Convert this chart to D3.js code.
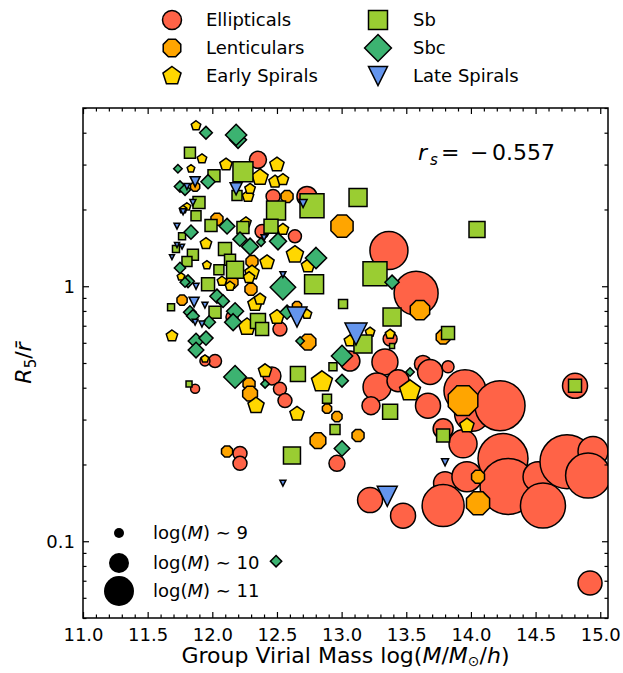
<!DOCTYPE html>
<html>
<head>
<meta charset="utf-8">
<script src="https://cdn.jsdelivr.net/npm/d3@7"></script>
<style>
  body { margin: 0; background: #fff; }
  text { font-family: "DejaVu Sans", sans-serif; fill: #000; }
</style>
</head>
<body>
<svg id="chart" width="623" height="673"></svg>
<script>
// Each galaxy: [group virial mass log(M/Msun/h), R5/r-bar, log stellar mass]
const ellipticals = [
  [12.353,3.13,9.7],[12.470,2.25,9.4],[12.732,2.25,10.0],[12.385,1.64,9.4],[12.639,1.57,9.3],
  [13.366,1.38,11.8],[13.576,0.939,12.4],[12.152,0.757,9.2],[12.523,0.679,9.4],[12.021,0.509,9.3],
  [11.943,0.509,9.0],[11.867,0.396,8.9],[12.461,0.445,9.8],[12.523,0.396,9.3],[12.562,0.356,9.4],
  [12.214,0.221,9.4],[12.214,0.202,9.4],[12.964,0.202,9.6],[13.064,0.509,10.0],[13.375,0.621,9.4],
  [13.335,0.505,10.6],[13.629,0.496,9.7],[13.684,0.461,10.5],[13.823,0.483,9.2],[13.274,0.403,10.8],
  [13.436,0.426,10.2],[13.668,0.34,10.5],[13.954,0.389,12.2],[14.009,0.316,11.5],[14.225,0.34,13.0],
  [13.227,0.34,9.8],[13.785,0.276,10.0],[13.939,0.241,10.8],[13.800,0.169,10.3],[13.969,0.179,11.0],
  [14.248,0.211,13.0],[14.287,0.164,13.6],[14.519,0.179,11.0],[14.557,0.138,12.5],[14.743,0.205,13.4],
  [14.944,0.225,11.0],[14.906,0.181,12.5],[14.805,0.407,10.5],[13.785,0.138,12.2],[13.220,0.145,10.5],
  [13.475,0.126,10.5],[14.921,0.0686,10.4]
];
const lenticulars = [
  [11.867,2.46,9.0],[12.578,2.25,9.3],[12.036,1.83,9.3],[12.307,1.25,9.3],[12.152,1.037,9.3],
  [12.299,0.973,9.3],[11.766,0.882,9.1],[12.740,0.604,9.7],[12.284,0.414,9.3],[12.292,0.379,9.6],
  [12.114,0.225,9.2],[12.887,0.331,9.0],[12.964,0.308,9.1],[12.817,0.248,9.7],[13.127,0.26,9.3],
  [13.003,1.72,10.4],[13.606,0.806,10.1],[13.785,0.632,9.5],[13.939,0.356,11.2],[14.055,0.179,9.4],
  [14.055,0.141,10.5],[12.655,0.836,9.0]
];
const earlySpirals = [
  [11.874,4.26,9.0],[11.920,3.16,9.0],[11.835,2.89,8.8],[12.106,3.0,9.3],[12.500,3.0,9.5],
  [12.369,2.67,9.7],[12.485,2.57,9.3],[12.546,2.62,9.2],[12.276,2.25,9.2],[12.292,2.41,9.1],
  [11.804,2.05,8.8],[11.774,2.0,8.8],[12.260,1.78,9.1],[11.951,1.47,9.2],[12.423,1.24,9.5],
  [11.958,1.21,8.9],[12.307,1.13,9.5],[12.284,1.08,9.2],[12.075,1.046,9.0],[11.758,1.09,8.8],
  [12.137,1.0,9.0],[12.330,0.851,9.5],[12.369,0.89,9.2],[12.269,0.692,9.8],[12.500,0.757,9.5],
  [11.688,0.638,9.2],[11.943,0.519,8.8],[12.408,0.466,9.4],[12.338,0.34,9.7],[12.655,0.316,9.5],
  [12.732,0.777,9.0],[12.848,0.422,10.2],[12.639,1.33,9.8],[12.740,1.2,9.4],[13.064,0.61,9.2],
  [13.220,0.661,9.0],[13.375,0.649,9.0],[13.529,0.389,10.2],[13.969,0.284,9.5],[12.546,1.67,9.2]
];
const sb = [
  [11.827,3.34,9.1],[12.237,2.81,10.0],[12.013,2.71,9.2],[12.191,2.27,9.0],[11.897,2.13,9.2],
  [12.493,1.98,9.9],[11.874,1.89,9.0],[11.990,1.73,9.2],[12.237,1.7,9.2],[12.454,1.72,9.4],
  [11.766,1.57,8.7],[12.098,1.4,9.3],[12.137,1.27,9.1],[12.176,1.16,9.7],[11.850,1.33,9.1],
  [11.804,1.25,9.0],[11.719,1.4,8.7],[12.051,1.16,9.0],[11.967,1.018,9.3],[11.681,0.828,8.7],
  [12.021,0.791,9.2],[12.353,0.73,9.5],[12.385,0.679,9.3],[11.820,0.414,8.6],[12.616,0.217,9.7],
  [12.662,0.453,9.5],[12.933,0.483,8.8],[12.887,0.362,8.9],[12.949,0.274,9.0],[13.127,2.23,9.8],
  [12.771,2.07,10.4],[12.787,1.018,9.9],[13.258,1.12,10.4],[13.011,0.851,8.9],[14.047,1.67,9.6],
  [13.390,0.757,9.8],[13.823,0.655,9.3],[13.165,0.593,9.8],[13.390,0.583,8.5],[13.375,0.322,9.5],
  [13.785,0.26,9.3],[14.805,0.407,9.3]
];
const sbc = [
  [11.951,4.0,8.9],[12.199,3.75,9.2],[12.184,3.92,9.5],[11.734,2.89,8.6],[11.967,2.57,9.0],
  [11.750,2.46,8.8],[11.789,2.39,8.8],[12.114,1.72,9.1],[12.508,1.5,9.2],[11.835,1.63,9.0],
  [12.214,1.53,9.0],[12.292,1.43,9.2],[12.377,1.49,8.6],[11.750,1.18,8.8],[11.812,1.046,8.9],
  [12.546,0.991,9.8],[11.789,1.037,8.7],[12.036,0.914,9.0],[12.083,0.874,8.9],[11.827,0.791,8.9],
  [11.850,0.764,8.9],[11.975,0.723,8.9],[12.176,0.798,9.2],[12.161,0.723,9.2],[12.578,0.791,9.0],
  [11.874,0.61,9.1],[11.951,0.626,9.0],[11.874,0.562,9.1],[12.176,0.441,9.6],[12.408,0.414,8.6],
  [12.679,0.61,8.6],[13.003,0.533,9.5],[13.003,0.426,8.9],[13.003,0.231,9.1],[12.802,1.29,9.5],
  [13.390,1.037,9.0],[13.529,0.461,8.6],[12.493,0.0835,8.8]
];
const lateSpirals = [
  [11.867,2.57,9.0],[11.804,2.46,8.6],[12.184,2.41,9.2],[11.850,2.13,8.6],[11.774,1.96,8.6],
  [12.400,1.55,8.6],[11.727,1.72,8.6],[11.727,1.45,8.5],[11.766,1.43,8.5],[11.688,1.3,8.5],
  [12.546,1.11,8.6],[11.874,1.0,8.6],[11.859,0.866,9.0],[11.943,0.843,8.6],[11.867,0.723,8.6],
  [11.920,0.711,8.6],[12.702,2.11,8.8],[12.655,0.757,10.0],[13.111,0.649,10.2],[12.546,0.169,8.6],
  [13.800,0.204,8.7],[13.353,0.15,10.0]
];

const categoryNames = ["Ellipticals", "Lenticulars", "Early Spirals", "Sb", "Sbc", "Late Spirals"];
const xTickValues = [11.0, 11.5, 12.0, 12.5, 13.0, 13.5, 14.0, 14.5, 15.0];
const yTickValues = [0.1, 1];
const sizeKeyMasses = [9, 10, 11];
const spearmanR = -0.557;

const series = [
  { name: categoryNames[0], data: ellipticals,  shape: "circle",   color: "#FF6347" },
  { name: categoryNames[1], data: lenticulars,  shape: "octagon",  color: "#FFA500" },
  { name: categoryNames[2], data: earlySpirals, shape: "pentagon", color: "#FFD700" },
  { name: categoryNames[3], data: sb,           shape: "square",   color: "#9ACD32" },
  { name: categoryNames[4], data: sbc,          shape: "diamond",  color: "#3CB371" },
  { name: categoryNames[5], data: lateSpirals,  shape: "triangle", color: "#6495ED" }
];

const svg = d3.select("#chart");
const L = 83, R = 608, T = 108, B = 618;

const x = d3.scaleLinear().domain([11.0, 15.06]).range([L, R]);
const y = d3.scaleLog().domain([0.05, 5]).range([B, T]);
// marker diameter in px from log stellar mass
const size = d3.scaleLinear().domain([8, 11]).range([0, 30]);

function polygon(n, r, rotDeg) {
  const pts = d3.range(n).map(i => {
    const a = (-90 + rotDeg + i * 360 / n) * Math.PI / 180;
    return [r * Math.cos(a), r * Math.sin(a)];
  });
  return "M" + pts.map(p => p[0].toFixed(2) + "," + p[1].toFixed(2)).join("L") + "Z";
}
function markerPath(shape, d) {
  const h = d / 2;
  switch (shape) {
    case "circle":
      return `M${h},0A${h},${h} 0 1,1 ${-h},0A${h},${h} 0 1,1 ${h},0Z`;
    case "octagon":  return polygon(8, h, 22.5);
    case "pentagon": return polygon(5, h, 0);
    case "square":   return `M${-h},${-h}H${h}V${h}H${-h}Z`;
    case "diamond": {
      const k = d * Math.SQRT1_2;
      return `M0,${-k}L${k},0L0,${k}L${-k},0Z`;
    }
    case "triangle": return `M${-h},${-h}L${h},${-h}L0,${h}Z`;
  }
}

// clip region for the markers
svg.append("defs").append("clipPath").attr("id", "plotClip")
  .append("rect").attr("x", L).attr("y", T).attr("width", R - L).attr("height", B - T);

const plot = svg.append("g").attr("clip-path", "url(#plotClip)");
series.forEach(s => {
  plot.append("g").selectAll("path").data(s.data).join("path")
    .attr("transform", d => `translate(${x(d[0])},${y(d[1])})`)
    .attr("d", d => markerPath(s.shape, size(d[2])))
    .attr("fill", s.color)
    .attr("stroke", "#000")
    .attr("stroke-width", 1.5)
    .attr("stroke-linejoin", "miter");
});

// axes with inward ticks on all four sides
const xMinor = d3.range(110, 151).map(v => v / 10).filter(v => Math.abs(v * 2 - Math.round(v * 2)) > 1e-6);
const yMinor = [];
[0.01, 0.1, 1].forEach(dec => { for (let k = 2; k <= 9; k++) { const v = k * dec; if (v >= 0.05 && v <= 5) yMinor.push(v); } });

function styleAxis(g) {
  g.select(".domain").remove();
  g.selectAll("line").attr("stroke", "#000").attr("stroke-width", 1.2);
  g.selectAll("text").attr("font-size", 18).attr("font-family", "DejaVu Sans");
}

svg.append("g").attr("transform", `translate(0,${B})`)
  .call(d3.axisBottom(x).tickValues(xTickValues).tickFormat(d3.format(".1f")).tickSizeInner(-6).tickSizeOuter(0).tickPadding(10))
  .call(styleAxis);
svg.append("g").attr("transform", `translate(0,${B})`)
  .call(d3.axisBottom(x).tickValues(xMinor).tickFormat("").tickSizeInner(-3.5).tickSizeOuter(0))
  .call(styleAxis);
svg.append("g").attr("transform", `translate(0,${T})`)
  .call(d3.axisTop(x).tickValues(xTickValues).tickFormat("").tickSizeInner(-6).tickSizeOuter(0))
  .call(styleAxis);
svg.append("g").attr("transform", `translate(0,${T})`)
  .call(d3.axisTop(x).tickValues(xMinor).tickFormat("").tickSizeInner(-3.5).tickSizeOuter(0))
  .call(styleAxis);

svg.append("g").attr("transform", `translate(${L},0)`)
  .call(d3.axisLeft(y).tickValues(yTickValues).tickFormat(d => d === 1 ? "1" : "0.1").tickSizeInner(-6).tickSizeOuter(0).tickPadding(8))
  .call(styleAxis);
svg.append("g").attr("transform", `translate(${L},0)`)
  .call(d3.axisLeft(y).tickValues(yMinor).tickFormat("").tickSizeInner(-3.5).tickSizeOuter(0))
  .call(styleAxis);
svg.append("g").attr("transform", `translate(${R},0)`)
  .call(d3.axisRight(y).tickValues(yTickValues).tickFormat("").tickSizeInner(-6).tickSizeOuter(0))
  .call(styleAxis);
svg.append("g").attr("transform", `translate(${R},0)`)
  .call(d3.axisRight(y).tickValues(yMinor).tickFormat("").tickSizeInner(-3.5).tickSizeOuter(0))
  .call(styleAxis);

// frame
svg.append("rect").attr("x", L).attr("y", T).attr("width", R - L).attr("height", B - T)
  .attr("fill", "none").attr("stroke", "#000").attr("stroke-width", 1.5);

// axis titles
const xt = svg.append("text").attr("x", (L + R) / 2).attr("y", 663)
  .attr("text-anchor", "middle").attr("font-size", 22);
xt.append("tspan").text("Group Virial Mass log(");
xt.append("tspan").attr("font-style", "italic").text("M");
xt.append("tspan").text("/");
xt.append("tspan").attr("font-style", "italic").text("M");
xt.append("tspan").attr("font-size", 14).attr("dy", 3).text("\u2299");
xt.append("tspan").attr("dy", -3).text("/");
xt.append("tspan").attr("font-style", "italic").text("h");
xt.append("tspan").text(")");

const yt = svg.append("text").attr("transform", `translate(31,${(T + B) / 2}) rotate(-90)`)
  .attr("text-anchor", "middle").attr("font-size", 22);
yt.append("tspan").attr("font-style", "italic").text("R");
yt.append("tspan").attr("font-size", 15).attr("dy", 5).text("5");
yt.append("tspan").attr("dy", -5).text("/");
yt.append("tspan").attr("font-style", "italic").text("r\u0304");

// Spearman coefficient
const rt = svg.append("text").attr("y", 160).attr("font-size", 22);
rt.append("tspan").attr("x", 418).attr("font-style", "italic").text("r");
rt.append("tspan").attr("x", 430).attr("dy", 5).attr("font-size", 15).attr("font-style", "italic").text("s");
rt.append("tspan").attr("x", 441).attr("dy", -5).text("=");
rt.append("tspan").attr("x", 470).text("\u2212");
rt.append("tspan").attr("x", 492).text(d3.format(".3f")(Math.abs(spearmanR)));

// type legend (two columns)
const legend = svg.append("g");
series.forEach((s, i) => {
  const col = Math.floor(i / 3), row = i % 3;
  const mx = col === 0 ? 172 : 378, tx = col === 0 ? 206 : 413, cy = 20 + row * 28;
  legend.append("path").attr("transform", `translate(${mx},${cy})`)
    .attr("d", markerPath(s.shape, 19)).attr("fill", s.color)
    .attr("stroke", "#000").attr("stroke-width", 1.5);
  legend.append("text").attr("x", tx).attr("y", cy).attr("dy", "0.35em")
    .attr("font-size", 18).text(s.name);
});

// stellar mass size key
const key = svg.append("g");
sizeKeyMasses.forEach((m, i) => {
  const cy = [533, 563, 591][i];
  key.append("circle").attr("cx", 119).attr("cy", cy).attr("r", size(m) / 2).attr("fill", "#000");
  const t = key.append("text").attr("x", 153).attr("y", cy).attr("dy", "0.35em").attr("font-size", 18);
  t.append("tspan").text("log(");
  t.append("tspan").attr("font-style", "italic").text("M");
  t.append("tspan").text(") \u223C " + m);
});
</script>
</body>
</html>
